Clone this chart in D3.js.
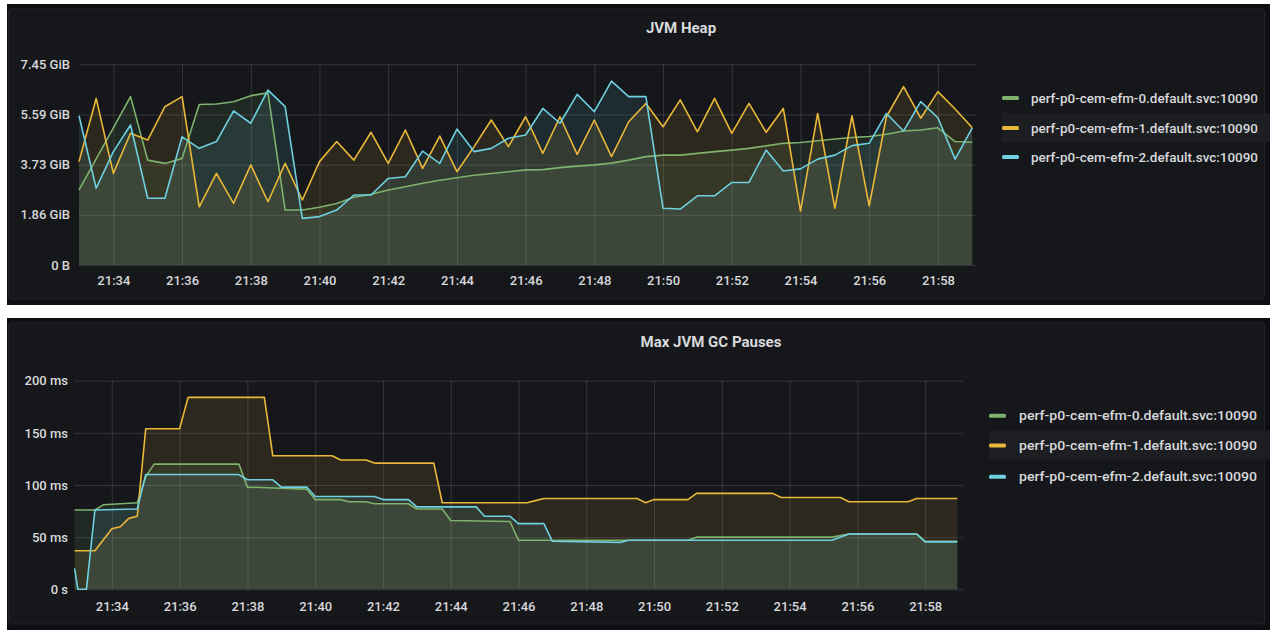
<!DOCTYPE html>
<html>
<head>
<meta charset="utf-8">
<script src="https://cdn.jsdelivr.net/npm/d3@7"></script>
<style>
    body { margin: 0; background: #ffffff; }
    svg { display: block; font-family: Roboto, "Helvetica Neue", Arial, sans-serif; }
</style>
</head>
<body>
<div class="chart"></div>
<script>
var svgWidth = 1270;
var svgHeight = 632;

var seriesNames = [
    "perf-p0-cem-efm-0.default.svc:10090",
    "perf-p0-cem-efm-1.default.svc:10090",
    "perf-p0-cem-efm-2.default.svc:10090"
];
var seriesColors = ["#7eb26d", "#eab839", "#6ed0e0"];

// JVM Heap: one sample every 30s, values in GB (1e9 bytes), axis shows GiB
var heapTimes = [
    "21:33:00", "21:33:30", "21:34:00", "21:34:30", "21:35:00", "21:35:30", "21:36:00", "21:36:30",
    "21:37:00", "21:37:30", "21:38:00", "21:38:30", "21:39:00", "21:39:30", "21:40:00", "21:40:30",
    "21:41:00", "21:41:30", "21:42:00", "21:42:30", "21:43:00", "21:43:30", "21:44:00", "21:44:30",
    "21:45:00", "21:45:30", "21:46:00", "21:46:30", "21:47:00", "21:47:30", "21:48:00", "21:48:30",
    "21:49:00", "21:49:30", "21:50:00", "21:50:30", "21:51:00", "21:51:30", "21:52:00", "21:52:30",
    "21:53:00", "21:53:30", "21:54:00", "21:54:30", "21:55:00", "21:55:30", "21:56:00", "21:56:30",
    "21:57:00", "21:57:30", "21:58:00", "21:58:30", "21:59:00"
];
var heapGreen = [2.99, 4.23, 5.47, 6.71, 4.18, 4.05, 4.25, 6.40, 6.42, 6.51, 6.75, 6.86, 2.19, 2.19,
    2.30, 2.45, 2.70, 2.82, 2.99, 3.12, 3.26, 3.38, 3.48, 3.58, 3.65, 3.72, 3.79, 3.80, 3.88, 3.94,
    3.99, 4.06, 4.18, 4.32, 4.38, 4.38, 4.45, 4.52, 4.58, 4.65, 4.75, 4.85, 4.88, 4.95, 5.02, 5.08,
    5.12, 5.21, 5.34, 5.38, 5.47, 4.92, 4.89];
var heapYellow = [4.12, 6.64, 3.65, 5.25, 4.98, 6.31, 6.71, 2.32, 3.65, 2.46, 3.99, 2.52, 4.05, 2.59,
    4.12, 4.92, 4.18, 5.29, 4.05, 5.38, 3.85, 5.14, 3.72, 4.72, 5.78, 4.72, 5.91, 4.45, 5.91, 4.41,
    5.78, 4.32, 5.71, 6.44, 5.51, 6.58, 5.31, 6.64, 5.25, 6.44, 5.29, 6.24, 2.15, 6.04, 2.26, 5.95,
    2.36, 5.91, 7.11, 5.85, 6.91, 6.22, 5.47];
var heapCyan = [5.95, 3.06, 4.52, 5.58, 2.66, 2.66, 5.11, 4.65, 4.92, 6.14, 5.65, 6.97, 6.31, 1.86,
    1.93, 2.19, 2.79, 2.79, 3.45, 3.52, 4.54, 4.05, 5.42, 4.52, 4.65, 5.05, 5.18, 6.24, 5.65, 6.80,
    6.11, 7.33, 6.71, 6.71, 2.26, 2.23, 2.76, 2.76, 3.29, 3.29, 4.58, 3.75, 3.83, 4.22, 4.38, 4.76,
    4.85, 6.04, 5.34, 6.51, 5.87, 4.22, 5.47];
var heapTicks = [0, 2, 4, 6, 8];

// Max JVM GC Pauses: points where each line bends, values in ms
var gcGreenTimes = ["21:32:54", "21:33:30", "21:33:45", "21:34:45", "21:35:00", "21:35:15", "21:37:45",
    "21:38:00", "21:39:45", "21:40:00", "21:40:45", "21:41:00", "21:41:30", "21:41:45", "21:42:45",
    "21:43:00", "21:43:45", "21:44:00", "21:45:45", "21:46:00", "21:51:00", "21:51:15", "21:55:15",
    "21:55:45", "21:57:45", "21:58:00", "21:58:57"];
var gcGreen = [76, 76, 81, 83, 108, 120, 120, 98, 96, 86, 86, 84, 84, 82, 82, 77, 77, 66, 65, 47, 47,
    50, 50, 53, 53, 46, 46];
var gcYellowTimes = ["21:32:54", "21:33:30", "21:34:00", "21:34:15", "21:34:30", "21:34:45", "21:35:00",
    "21:36:00", "21:36:15", "21:38:30", "21:38:45", "21:40:30", "21:40:45", "21:41:30", "21:41:45",
    "21:43:30", "21:43:45", "21:46:15", "21:46:30", "21:46:45", "21:49:30", "21:49:45", "21:50:00",
    "21:51:00", "21:51:15", "21:53:30", "21:53:45", "21:55:30", "21:55:45", "21:57:30", "21:57:45",
    "21:58:57"];
var gcYellow = [37, 37, 58, 60, 68, 70, 154, 154, 184, 184, 128, 128, 124, 124, 121, 121, 83, 83, 85,
    87, 87, 83, 86, 86, 92, 92, 88, 88, 84, 84, 87, 87];
var gcCyanTimes = ["21:32:54", "21:33:00", "21:33:15", "21:33:30", "21:34:45", "21:35:00", "21:37:45",
    "21:38:00", "21:38:45", "21:39:00", "21:39:45", "21:40:00", "21:41:45", "21:42:00", "21:42:45",
    "21:43:00", "21:44:45", "21:45:00", "21:45:45", "21:46:00", "21:46:45", "21:47:00", "21:49:00",
    "21:49:15", "21:55:15", "21:55:45", "21:57:45", "21:58:00", "21:58:57"];
var gcCyan = [20, 0, 0, 76, 77, 110, 110, 105, 105, 98, 98, 89, 89, 86, 86, 79, 79, 70, 70, 63, 63,
    46, 45, 47, 47, 53, 53, 45.5, 45.5];
var gcTicks = [0, 50, 100, 150, 200];

var parseTime = d3.timeParse("%H:%M:%S");

var svg = d3
    .select(".chart")
    .append("svg")
    .attr("width", svgWidth)
    .attr("height", svgHeight);

function gibLabel(v) {
    if (v === 0) return "0 B";
    return (v * 1e9 / Math.pow(2, 30)).toFixed(2) + " GiB";
}

function msLabel(v) {
    if (v === 0) return "0 s";
    return v + " ms";
}

function drawPanel(p) {
    var g = svg.append("g");

    // page background and panel box
    g.append("rect")
        .attr("x", p.box[0]).attr("y", p.box[1])
        .attr("width", p.box[2] - p.box[0]).attr("height", p.box[3] - p.box[1])
        .attr("fill", "#0e0f12");
    g.append("rect")
        .attr("x", p.box[0] + 1.5).attr("y", p.box[1] + 5)
        .attr("width", p.box[2] - p.box[0] - 7).attr("height", p.box[3] - p.box[1] - 11)
        .attr("rx", 3)
        .attr("fill", "#15171a")
        .attr("stroke", "#22252a");

    g.append("text")
        .attr("x", p.titleX).attr("y", p.titleY)
        .attr("text-anchor", "middle")
        .attr("fill", "#d8d9da")
        .style("font-size", "15px")
        .style("font-weight", "bold")
        .text(p.title);

    var x = d3.scaleTime()
        .domain([parseTime(p.domain[0]), parseTime(p.domain[1])])
        .range([p.left, p.right]);
    var y = d3.scaleLinear()
        .domain([0, p.max])
        .range([p.bottom, p.top]);

    // grid
    var hGrid = g.append("g")
        .attr("transform", `translate(${p.left},0)`)
        .call(d3.axisLeft(y).tickValues(p.ticks).tickSize(-(p.gridRight - p.left)).tickFormat(""));
    var vGrid = g.append("g")
        .attr("transform", `translate(0,${p.bottom})`)
        .call(d3.axisBottom(x).ticks(d3.timeMinute.every(2)).tickSize(-(p.bottom - p.top)).tickFormat(""));
    [hGrid, vGrid].forEach(function (a) {
        a.select(".domain").remove();
        a.selectAll("line").attr("stroke", "rgba(150,152,165,0.24)").attr("stroke-width", 1);
    });

    var area = d3.area()
        .x(d => x(d.t))
        .y0(y(0))
        .y1(d => y(d.v));
    var line = d3.line()
        .x(d => x(d.t))
        .y(d => y(d.v));

    var series = p.series.map(function (s) {
        return s.times.map((t, i) => ({ t: parseTime(t), v: s.values[i] }));
    });

    series.forEach(function (d, i) {
        g.append("path")
            .datum(d)
            .attr("d", area)
            .attr("fill", seriesColors[i])
            .attr("fill-opacity", 0.11);
    });
    series.forEach(function (d, i) {
        g.append("path")
            .datum(d)
            .attr("d", line)
            .attr("fill", "none")
            .attr("stroke", seriesColors[i])
            .attr("stroke-width", 1.6)
            .attr("stroke-linejoin", "round");
    });

    // axis labels
    var yAxis = g.append("g")
        .attr("transform", `translate(${p.left},0)`)
        .call(d3.axisLeft(y).tickValues(p.ticks).tickSize(0).tickPadding(p.yPad).tickFormat(p.fmt));
    var xAxis = g.append("g")
        .attr("transform", `translate(0,${p.bottom})`)
        .call(d3.axisBottom(x).ticks(d3.timeMinute.every(2)).tickSize(0).tickPadding(p.xPad)
            .tickFormat(d3.timeFormat("%H:%M")));
    [yAxis, xAxis].forEach(function (a) {
        a.select(".domain").remove();
        a.selectAll("text")
            .attr("fill", "#d8d9da")
            .style("font-size", "13px")
            .style("font-weight", "500")
            .style("font-family", "Roboto, Arial, sans-serif");
    });

    // legend, second row highlighted
    var lg = g.append("g");
    lg.append("rect")
        .attr("x", p.legX).attr("y", p.legY[1] - 15)
        .attr("width", svgWidth - p.legX).attr("height", 29)
        .attr("fill", "#1c1e22");
    seriesNames.forEach(function (name, i) {
        lg.append("rect")
            .attr("x", p.legX).attr("y", p.legY[i] - 2)
            .attr("width", 17).attr("height", 4)
            .attr("rx", 1.5)
            .attr("fill", seriesColors[i]);
        lg.append("text")
            .attr("x", p.legTextX).attr("y", p.legY[i] + 4.5)
            .attr("fill", "#d8d9da")
            .attr("textLength", p.legTextW)
            .attr("lengthAdjust", "spacingAndGlyphs")
            .style("font-size", "13px")
            .style("font-weight", "500")
            .text(name);
    });
}

drawPanel({
    title: "JVM Heap",
    box: [7, 4, 1270, 305],
    titleX: 681, titleY: 33,
    domain: ["21:33:00", "21:59:10"],
    left: 79, right: 978, gridRight: 977,
    top: 64.3, bottom: 265, max: 8,
    ticks: heapTicks, fmt: gibLabel,
    yPad: 9, xPad: 11,
    series: [
        { times: heapTimes, values: heapGreen },
        { times: heapTimes, values: heapYellow },
        { times: heapTimes, values: heapCyan }
    ],
    legX: 1002, legTextX: 1031, legTextW: 227, legY: [98, 128, 157]
});

drawPanel({
    title: "Max JVM GC Pauses",
    box: [7, 318, 1270, 630],
    titleX: 711, titleY: 347,
    domain: ["21:32:53", "21:59:07"],
    left: 74, right: 963, gridRight: 963,
    top: 380.7, bottom: 589.3, max: 200,
    ticks: gcTicks, fmt: msLabel,
    yPad: 6, xPad: 12,
    series: [
        { times: gcGreenTimes, values: gcGreen },
        { times: gcYellowTimes, values: gcYellow },
        { times: gcCyanTimes, values: gcCyan }
    ],
    legX: 989, legTextX: 1019, legTextW: 238, legY: [415.7, 445.5, 476.7]
});
</script>
</body>
</html>
